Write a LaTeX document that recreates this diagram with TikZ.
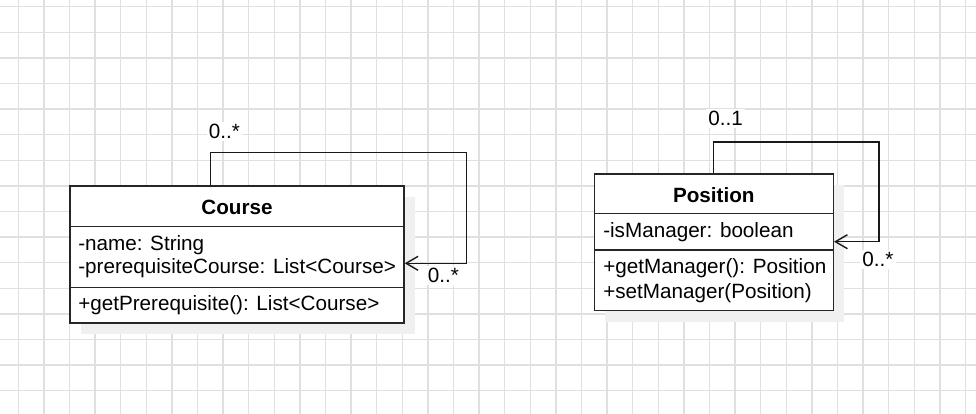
\documentclass[tikz,border=0pt]{standalone}
\usepackage{fontspec}
\setmainfont{Liberation Sans}
\usetikzlibrary{arrows.meta, positioning, shadows}
\tikzset{>={Straight Barb[length=9pt,width=10.5pt]}}
\tikzset{
  gridline/.style={draw=black!12, line width=1pt},
  classbox/.style={draw=black!85, line width=1.1pt, fill=white, inner sep=0pt,
    drop shadow={shadow xshift=8.25pt, shadow yshift=-8.25pt, fill=black!6, opacity=1}},
  divider/.style={draw=black!85, line width=1.1pt},
  member/.style={anchor=west, inner sep=0pt},
  title/.style={font=\bfseries, inner sep=0pt},
  mult/.style={fill=white, inner sep=1.5pt},
  assoc/.style={->, line width=1.05pt, black!90},
}
\begin{document}
\fontsize{15.5}{17.25}\selectfont
\begin{tikzpicture}[x=0.75pt, y=-0.75pt]
    \useasboundingbox[fill=white] (0,0) rectangle (976,414);
    % background grid
    \foreach \i in {0,...,37}
        \draw[gridline] (18.3+25.6*\i,0) -- (18.3+25.6*\i,414);
    \foreach \j in {0,...,15}
        \draw[gridline] (0,6.7+25.6*\j) -- (976,6.7+25.6*\j);

    % Course
    \node[classbox, minimum width=250.5pt, minimum height=102.75pt] (course) at (237,254.5) {};
    \draw[divider] (course.west |- 0,226.7) -- (course.east |- 0,226.7);
    \draw[divider] (course.west |- 0,287.3) -- (course.east |- 0,287.3);
    \node[title]  (crsName)  at (237,207) {Course};
    \node[member] (crsAttrA) at (78,245)  {-name: String};
    \node[member] (crsAttrB) at (78,268)  {-prerequisiteCourse: List<Course>};
    \node[member] (crsOp)    at (78,305)  {+getPrerequisite(): List<Course>};

    % Position
    \node[classbox, minimum width=179.25pt, minimum height=102.5pt] (position) at (713.8,242.35) {};
    \draw[divider] (position.west |- 0,213.7) -- (position.east |- 0,213.7);
    \draw[divider] (position.west |- 0,250) -- (position.east |- 0,250);
    \node[title]  (posName) at (713.8,195) {Position};
    \node[member] (posAttr) at (603,231.7) {-isManager: boolean};
    \node[member] (posOpA)  at (603,268.3) {+getManager(): Position};
    \node[member] (posOpB)  at (603,292.7) {+setManager(Position)};

    % self associations
    \coordinate (crsTop)   at (210.7,152.7);
    \coordinate (crsRight) at (466.7,263.3);
    \draw[assoc] (course.north -| crsTop) -- (crsTop) -| (crsRight) -- (course.east |- crsRight);
    \node[mult] (crsSrc) at (224.5,131.7) {0..*};
    \node[mult] (crsDst) at (443.5,275.7) {0..*};

    \coordinate (posTop)   at (713.3,142);
    \coordinate (posRight) at (879,241.7);
    \draw[assoc] (position.north -| posTop) -- (posTop) -| (posRight) -- (position.east |- posRight);
    \node[mult] (posSrc) at (725.7,118.3) {0..1};
    \node[mult] (posDst) at (878,259.3) {0..*};
\end{tikzpicture}
\end{document}
